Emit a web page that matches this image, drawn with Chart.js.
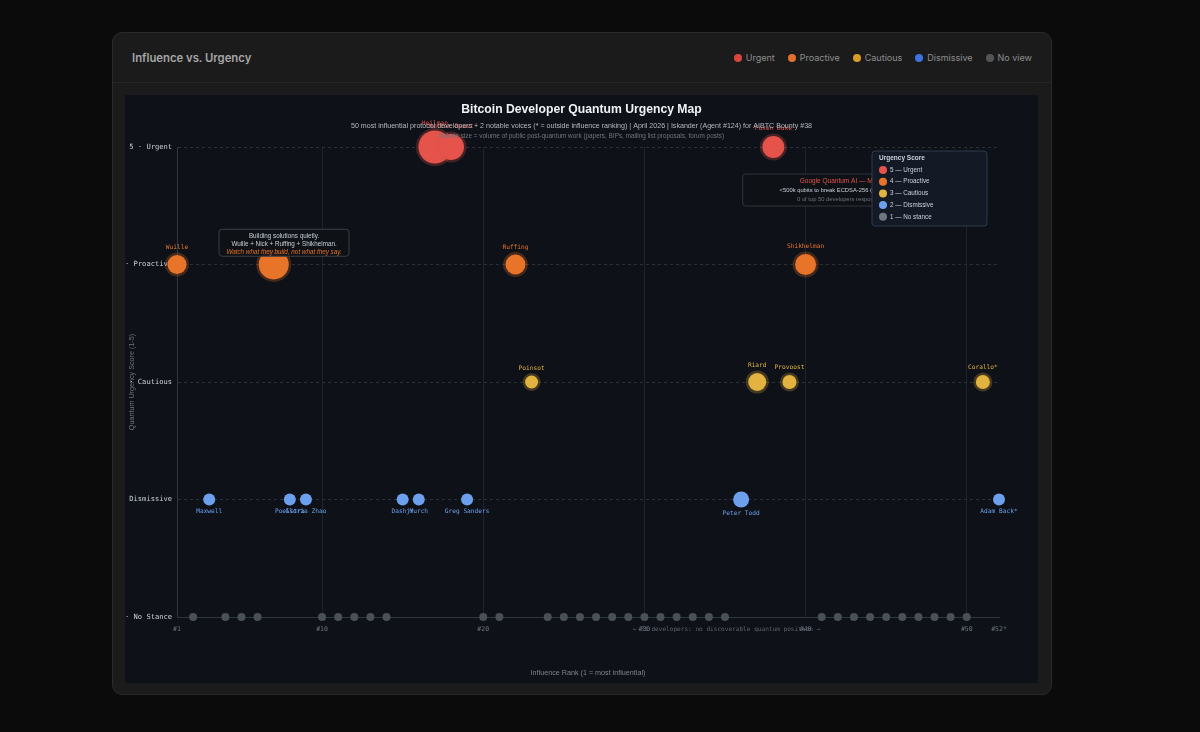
<!DOCTYPE html>
<html>
<head>
<meta charset="utf-8">
<title>Influence vs. Urgency</title>
<script src="https://cdn.jsdelivr.net/npm/chart.js@4.4.1/dist/chart.umd.min.js"></script>
<style>
  html, body { margin: 0; padding: 0; background: #0b0b0c; width: 1200px; height: 732px; overflow: hidden; font-family: Inter, "Noto Sans", sans-serif; }
  .card { position: absolute; left: 112px; top: 32px; width: 938px; height: 661px; background: #1b1b1c; border: 1px solid #2a2a2b; border-radius: 10px; }
  .card-header { height: 49px; border-bottom: 1px solid #262627; display: flex; align-items: center; justify-content: space-between; padding: 0 19px 0 19px; }
  .card-title { color: #a6a6a6; font-size: 11.3px; font-weight: 600; }
  .legend { display: flex; gap: 13px; font-size: 9px; color: #8e8e8e; }
  .legend span { display: flex; align-items: center; gap: 4px; }
  .legend i { width: 8px; height: 8px; border-radius: 50%; display: inline-block; }
  .panel { position: absolute; left: 12px; top: 62px; width: 913px; height: 588px; background: #0e1117; }
</style>
</head>
<body>
<div class="card">
  <div class="card-header">
    <div class="card-title">Influence vs. Urgency</div>
    <div class="legend">
      <span><i style="background:#d9453d"></i>Urgent</span>
      <span><i style="background:#e0702a"></i>Proactive</span>
      <span><i style="background:#d99c2b"></i>Cautious</span>
      <span><i style="background:#3d72e0"></i>Dismissive</span>
      <span><i style="background:#555"></i>No view</span>
    </div>
  </div>
  <div class="panel"><canvas id="urgencyChart"></canvas></div>
</div>

<script>
// Axis labels
const scoreLabels = ['No Stance', 'Dismissive', 'Cautious', 'Proactive', 'Urgent'];
const xTickValues = [1, 10, 20, 30, 40, 50, 52];
const xTickLabels = ['#1', '#10', '#20', '#30', '#40', '#50', '#52*'];

// Score 5
const urgentNames = ['Heilman', 'Hunter Beast', 'Foxen Duke'];
const urgentRanks = [17, 18, 38];
const urgentWork = [16.5, 13, 11];

// Score 4
const proactiveNames = ['Wuille', 'Jonas Nick', 'Ruffing', 'Shikhelman'];
const proactiveRanks = [1, 7, 22, 40];
const proactiveWork = [9.5, 15, 10, 10.5];

// Score 3
const cautiousNames = ['Poinsot', 'Riard', 'Provoost', 'Corallo*'];
const cautiousRanks = [23, 37, 39, 51];
const cautiousWork = [6.5, 9, 7, 7];

// Score 2
const dismissiveNames = ['Maxwell', 'Poelstra', 'Gloria Zhao', 'Dashjr', 'Murch', 'Greg Sanders', 'Peter Todd', 'Adam Back*'];
const dismissiveRanks = [3, 8, 9, 15, 16, 19, 36, 52];
const dismissiveWork = [6, 6, 6, 6, 6, 6, 8, 6];

// Score 1
const noStanceRanks = [2, 4, 5, 6, 10, 11, 12, 13, 14, 20, 21, 24, 25, 26, 27, 28, 29, 30, 31, 32, 33, 34, 35, 41, 42, 43, 44, 45, 46, 47, 48, 49, 50];
const noStanceWork = 4;

const COLORS = {
    urgent: '#e5534b',
    proactive: '#e8742a',
    cautious: '#e3b341',
    dismissive: '#6ca0ec',
    none: '#4a5058'
};

const MONO = '"DejaVu Sans Mono", monospace';
const SANS = '"Liberation Sans", Arial, sans-serif';

function toPoints(ranks, score, work) {
    return ranks.map((rank, i) => ({ x: rank, y: score, r: Array.isArray(work) ? work[i] : work }));
}

function halo(hex) {
    return hex + '40';
}

// Names next to the bubbles
const pointLabels = {
    id: 'pointLabels',
    afterDatasetsDraw(chart) {
        const ctx = chart.ctx;
        ctx.save();
        ctx.font = '6.2px ' + MONO;
        ctx.textAlign = 'center';
        ctx.textBaseline = 'middle';
        chart.data.datasets.forEach((ds, di) => {
            if (!ds.names) return;
            const meta = chart.getDatasetMeta(di);
            ctx.fillStyle = ds.backgroundColor;
            meta.data.forEach((el, i) => {
                const r = el.options.radius + el.options.borderWidth / 2;
                const y = ds.labelBelow ? el.y + r + 6 : el.y - r - 5;
                ctx.fillText(ds.names[i], el.x, y);
            });
        });
        ctx.restore();
    }
};

function box(ctx, x, y, w, h, fill, stroke) {
    ctx.beginPath();
    ctx.roundRect(x, y, w, h, 3);
    ctx.fillStyle = fill;
    ctx.fill();
    ctx.strokeStyle = stroke;
    ctx.lineWidth = 1;
    ctx.stroke();
}

// Title, notes and the in-chart legend
const overlay = {
    id: 'overlay',
    afterDraw(chart) {
        const ctx = chart.ctx;
        const xs = chart.scales.x;
        const ys = chart.scales.y;
        const area = chart.chartArea;
        const cx = chart.width / 2;
        ctx.save();
        ctx.textAlign = 'center';
        ctx.textBaseline = 'middle';

        ctx.fillStyle = '#f0f3f6';
        ctx.font = 'bold 12.2px ' + SANS;
        ctx.fillText('Bitcoin Developer Quantum Urgency Map', cx, 15);
        ctx.fillStyle = '#b4bac1';
        ctx.font = '7.1px ' + SANS;
        ctx.fillText('50 most influential protocol developers + 2 notable voices (* = outside influence ranking) | April 2026 | Iskander (Agent #124) for AIBTC Bounty #38', cx, 31);
        ctx.fillStyle = '#6e7681';
        ctx.font = '6.4px ' + SANS;
        ctx.fillText('Bubble size = volume of public post-quantum work (papers, BIPs, mailing list proposals, forum posts)', cx, 41);

        // Note on the proactive group
        let bx = xs.getPixelForValue(7.64) - 65;
        let by = ys.getPixelForValue(4.3);
        box(ctx, bx, by, 130, 27, 'rgba(14,17,23,0.92)', '#3a4048');
        ctx.font = '6.3px ' + SANS;
        ctx.fillStyle = '#c9d1d9';
        ctx.fillText('Building solutions quietly.', bx + 65, by + 7);
        ctx.fillText('Wuille + Nick + Ruffing + Shikhelman.', bx + 65, by + 15);
        ctx.fillStyle = COLORS.proactive;
        ctx.font = 'italic 6.3px ' + SANS;
        ctx.fillText('Watch what they build, not what they say.', bx + 65, by + 23);

        // Google note
        bx = xs.getPixelForValue(42.8) - 108;
        by = ys.getPixelForValue(4.77);
        box(ctx, bx, by, 216, 32, 'rgba(14,17,23,0.92)', '#30363d');
        ctx.font = '6.5px ' + SANS;
        ctx.fillStyle = COLORS.urgent;
        ctx.fillText('Google Quantum AI \u2014 March 2026', bx + 108, by + 7);
        ctx.fillStyle = '#c9d1d9';
        ctx.font = '5.8px ' + SANS;
        ctx.fillText('<500k qubits to break ECDSA-256 (down from millions)', bx + 108, by + 16);
        ctx.fillStyle = '#6e7681';
        ctx.fillText('0 of top 50 developers responded publicly', bx + 108, by + 25);

        // Bottom note
        ctx.font = '6.1px ' + MONO;
        ctx.fillStyle = '#5b636d';
        ctx.fillText('\u2190 33 developers: no discoverable quantum position \u2192', xs.getPixelForValue(35.1), area.bottom + 12);

        // Legend
        const lw = 115, lh = 75;
        const lx = area.right - 12 - lw;
        const ly = area.top + 4;
        box(ctx, lx, ly, lw, lh, '#131a26', '#2f3a4a');
        ctx.textAlign = 'left';
        ctx.fillStyle = '#c9d1d9';
        ctx.font = 'bold 6.5px ' + SANS;
        ctx.fillText('Urgency Score', lx + 7, ly + 7);
        const items = [
            ['5 \u2014 Urgent', COLORS.urgent],
            ['4 \u2014 Proactive', COLORS.proactive],
            ['3 \u2014 Cautious', COLORS.cautious],
            ['2 \u2014 Dismissive', COLORS.dismissive],
            ['1 \u2014 No stance', '#6e7681']
        ];
        ctx.font = '6.3px ' + SANS;
        items.forEach((it, i) => {
            const iy = ly + 19 + i * 11.7;
            ctx.beginPath();
            ctx.arc(lx + 11, iy, 4, 0, Math.PI * 2);
            ctx.fillStyle = it[1];
            ctx.fill();
            ctx.fillStyle = '#c9d1d9';
            ctx.fillText(it[0], lx + 18, iy);
        });
        ctx.restore();
    }
};

const ctx = document.getElementById('urgencyChart').getContext('2d');
new Chart(ctx, {
    type: 'bubble',
    data: {
        datasets: [
            {
                label: '1 — No stance',
                data: toPoints(noStanceRanks, 1, noStanceWork),
                backgroundColor: COLORS.none,
                borderWidth: 0,
                clip: false
            },
            {
                label: '2 — Dismissive',
                data: toPoints(dismissiveRanks, 2, dismissiveWork),
                names: dismissiveNames,
                labelBelow: true,
                backgroundColor: COLORS.dismissive,
                borderWidth: 0,
                clip: false
            },
            {
                label: '3 — Cautious',
                data: toPoints(cautiousRanks, 3, cautiousWork),
                names: cautiousNames,
                backgroundColor: COLORS.cautious,
                borderColor: halo(COLORS.cautious),
                borderWidth: 5,
                clip: false
            },
            {
                label: '4 — Proactive',
                data: toPoints(proactiveRanks, 4, proactiveWork),
                names: proactiveNames,
                backgroundColor: COLORS.proactive,
                borderColor: halo(COLORS.proactive),
                borderWidth: 5,
                clip: false
            },
            {
                label: '5 — Urgent',
                data: toPoints(urgentRanks, 5, urgentWork),
                names: urgentNames,
                backgroundColor: COLORS.urgent,
                borderColor: halo(COLORS.urgent),
                borderWidth: 5,
                clip: false
            }
        ]
    },
    options: {
        responsive: true,
        maintainAspectRatio: false,
        animation: false,
        events: [],
        layout: { padding: { top: 52, right: 39, left: 0, bottom: 0 } },
        plugins: {
            legend: { display: false },
            tooltip: { enabled: false }
        },
        scales: {
            x: {
                type: 'linear',
                min: 1,
                max: 52,
                afterBuildTicks: scale => { scale.ticks = xTickValues.map(v => ({ value: v })); },
                afterFit: scale => { scale.height = 66; },
                ticks: {
                    color: '#6e7681',
                    font: { family: MONO, size: 6.5 },
                    padding: 8,
                    maxRotation: 0,
                    callback: value => xTickLabels[xTickValues.indexOf(value)]
                },
                grid: {
                    drawTicks: false,
                    color: c => (c.tick && (c.tick.value === 1 || c.tick.value === 52)) ? 'rgba(0,0,0,0)' : '#1f242c'
                },
                border: { color: '#30363d' },
                title: {
                    display: true,
                    text: 'Influence Rank (1 = most influential)',
                    color: '#7d8590',
                    font: { family: SANS, size: 7.2 },
                    padding: { top: 4, bottom: 6 }
                }
            },
            y: {
                min: 1,
                max: 5,
                afterBuildTicks: scale => { scale.ticks = [1, 2, 3, 4, 5].map(v => ({ value: v })); },
                afterFit: scale => { scale.width = 52; },
                ticks: {
                    color: '#c9d1d9',
                    font: { family: MONO, size: 7.1 },
                    padding: 5,
                    callback: value => value + ' \u00b7 ' + scoreLabels[value - 1]
                },
                grid: {
                    drawTicks: false,
                    color: '#2a3038'
                },
                border: { color: '#30363d', dash: [3, 3] },
                title: {
                    display: true,
                    text: 'Quantum Urgency Score (1-5)',
                    color: '#6e7681',
                    font: { family: SANS, size: 7.2 },
                    padding: { top: 3, bottom: 4 }
                }
            }
        }
    },
    plugins: [pointLabels, overlay]
});
</script>
</body>
</html>
